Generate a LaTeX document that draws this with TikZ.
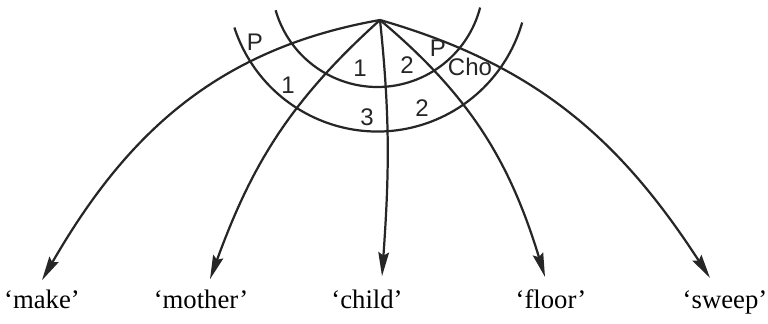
\documentclass[tikz,border=0pt]{standalone}
\usepackage{fontspec}
\setmainfont{Liberation Serif}
\newfontfamily\regionfont{Liberation Sans}
\usetikzlibrary{arrows.meta,calc}

\begin{document}
\begin{tikzpicture}[
    x=0.03cm, y=0.03cm,
    >={Stealth[length=0.72cm,width=0.32cm,inset=0.1cm]},
    ring/.style={line width=1.9pt, black!85},
    link/.style={->, line width=1.9pt, black!85},
    gloss/.style={font=\fontsize{22.8}{26}\selectfont, anchor=base, inner sep=0pt},
    zone/.style={font=\regionfont\fontsize{20.5}{24}\selectfont, inner sep=0pt, black!85}
]
    \useasboundingbox (0,0) rectangle (768,323);

    \coordinate (root) at (380,303);
    \coordinate (hub) at (377.5,342);

    % the two rings
    \draw[ring] (hub) ++(198:150.5) arc[start angle=198, end angle=344, radius=150.5];
    \draw[ring] (hub) ++(196:106) arc[start angle=196, end angle=345.5, radius=106];

    \node[gloss] (make)   at (42,15)  {‘make’};
    \node[gloss] (mother) at (201,15) {‘mother’};
    \node[gloss] (child)  at (367,15) {‘child’};
    \node[gloss] (floor)  at (551,15) {‘floor’};
    \node[gloss] (sweep)  at (725,15) {‘sweep’};

    \draw[link] (root) to[out=190, in=60]  ($(make.north)+(0,9)$);
    \draw[link] (root) to[out=222, in=70]  ($(mother.north)+(9,10)$);
    \draw[link] (root) to[out=276, in=86]  ($(child.north)+(15,13)$);
    \draw[link] (root) to[out=320, in=107] ($(floor.north)+(-6,12)$);
    \draw[link] (root) to[out=344, in=123] ($(sweep.north)+(-15,12)$);

    \node[zone] (p-left)  at (255,281) {P};
    \node[zone] (one-out) at (288,238) {1};
    \node[zone] (one-in)  at (360,255) {1};
    \node[zone] (two-in)  at (407,258) {2};
    \node[zone] (p-right) at (438,275) {P};
    \node[zone] (cho)     at (470,256) {Cho};
    \node[zone] (three)   at (367,206) {3};
    \node[zone] (two-out) at (422,215) {2};
\end{tikzpicture}
\end{document}
